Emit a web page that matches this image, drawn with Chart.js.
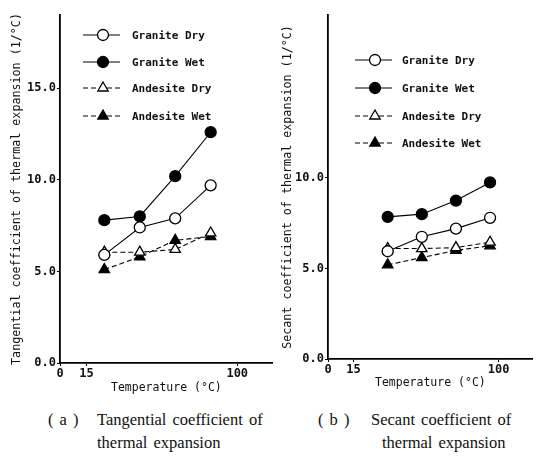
<!DOCTYPE html>
<html>
<head>
<meta charset="utf-8">
<script src="https://cdn.jsdelivr.net/npm/chart.js@4/dist/chart.umd.min.js"></script>
<style>
  body { margin: 0; background: #fff; width: 540px; height: 457px; position: relative; overflow: hidden; }
  canvas { position: absolute; top: 0; }
  #chart-a { left: 0; }
  #chart-b { left: 270px; }
  .cap { position: absolute; font-family: "Liberation Serif", "DejaVu Serif", serif; font-size: 16.5px; color: #111; line-height: 23px; white-space: pre; word-spacing: 2px; }
</style>
</head>
<body>
<canvas id="chart-a" width="280" height="400"></canvas>
<canvas id="chart-b" width="270" height="400"></canvas>
<div class="cap" style="left:48px;top:408px">( a )</div>
<div class="cap" style="left:97px;top:408px">Tangential coefficient of</div>
<div class="cap" style="left:97px;top:431px">thermal expansion</div>
<div class="cap" style="left:318px;top:408px">( b )</div>
<div class="cap" style="left:371px;top:408px">Secant coefficient of</div>
<div class="cap" style="left:382px;top:431px">thermal expansion</div>
<script>
// series
const seriesNames = ['Granite Dry', 'Granite Wet', 'Andesite Dry', 'Andesite Wet'];

// (a) tangential coefficient
const tempsA = [25, 45, 65, 85];
const graniteDryA = [5.9, 7.4, 7.9, 9.7];
const graniteWetA = [7.8, 8.0, 10.2, 12.6];
const andesiteDryA = [6.05, 6.05, 6.2, 7.1];
const andesiteWetA = [5.1, 5.8, 6.7, 6.9];

// (b) secant coefficient
const tempsB = [35, 55, 75, 95];
const graniteDryB = [5.95, 6.75, 7.2, 7.8];
const graniteWetB = [7.85, 8.0, 8.75, 9.75];
const andesiteDryB = [6.1, 6.1, 6.15, 6.45];
const andesiteWetB = [5.2, 5.6, 6.0, 6.25];

// axis ticks
const xTicks = [0, 15, 100];
const yTicksA = [0, 5, 10, 15];
const yTicksB = [0, 5, 10];

const MONO = '"DejaVu Sans Mono", monospace';

const styles = [
    { pointStyle: 'circle', fill: '#fff', dash: [], radius: 5.5 },
    { pointStyle: 'circle', fill: '#000', dash: [], radius: 5.5 },
    { pointStyle: 'triangle', fill: '#fff', dash: [5, 3], radius: 6 },
    { pointStyle: 'triangle', fill: '#000', dash: [5, 3], radius: 6 },
];

function makeDatasets(xs, lists) {
    return lists.map((vals, i) => ({
        label: seriesNames[i],
        data: xs.map((x, k) => ({ x, y: vals[k] })),
        borderColor: '#000',
        borderWidth: 1.1,
        borderDash: styles[i].dash,
        pointStyle: styles[i].pointStyle,
        pointRadius: styles[i].radius,
        pointBackgroundColor: styles[i].fill,
        pointBorderColor: '#000',
        pointBorderWidth: 1.3,
        tension: 0,
    }));
}

// legend drawn inside the plot area
const inlineLegend = {
    id: 'inlineLegend',
    afterDraw(chart, args, opts) {
        const ctx = chart.ctx;
        ctx.save();
        chart.data.datasets.forEach((ds, i) => {
            const y = opts.rows[i];
            ctx.strokeStyle = '#000';
            ctx.lineWidth = 1;
            ctx.setLineDash(ds.borderDash);
            ctx.beginPath();
            ctx.moveTo(opts.x0, y);
            ctx.lineTo(opts.x1, y);
            ctx.stroke();
            ctx.setLineDash([]);
            ctx.fillStyle = ds.pointBackgroundColor;
            ctx.lineWidth = 1.3;
            Chart.helpers.drawPoint(ctx, { pointStyle: ds.pointStyle, radius: ds.pointRadius, borderWidth: 1.3, rotation: 0 }, opts.xm, y);
            ctx.fillStyle = '#111';
            ctx.font = 'bold 11px ' + MONO;
            ctx.textBaseline = 'middle';
            ctx.textAlign = 'left';
            ctx.fillText(ds.label, opts.tx, y + 1);
        });
        ctx.restore();
    }
};

function makeChart(id, xs, lists, yTicks, yTitle, cfg) {
    const ctx = document.getElementById(id);
    return new Chart(ctx, {
        type: 'line',
        data: { datasets: makeDatasets(xs, lists) },
        options: {
            responsive: false,
            animation: false,
            layout: { padding: { top: 15, right: cfg.padRight, left: 0, bottom: 0 } },
            plugins: {
                legend: { display: false },
                tooltip: { enabled: false },
                inlineLegend: cfg.legend,
            },
            scales: {
                x: {
                    type: 'linear', min: 0, max: 120,
                    afterBuildTicks: ax => { ax.ticks = xTicks.map(v => ({ value: v })); },
                    afterFit: ax => { ax.height = cfg.xHeight; },
                    grid: { drawOnChartArea: false, tickLength: 3, color: '#000' },
                    border: { color: '#000', width: 1.8 },
                    ticks: { color: '#111', font: { family: MONO, size: 12, weight: 'bold' }, padding: 1, maxRotation: 0, autoSkip: false },
                    title: { display: true, text: 'Temperature (°C)', color: '#111', font: { family: MONO, size: 11.5 }, padding: { top: 0, bottom: cfg.xTitlePad } },
                },
                y: {
                    type: 'linear', min: 0, max: 19,
                    afterBuildTicks: ax => { ax.ticks = yTicks.map(v => ({ value: v })); },
                    afterFit: ax => { ax.width = cfg.yWidth; },
                    grid: { drawOnChartArea: false, tickLength: 3, color: '#000' },
                    border: { color: '#000', width: 1.8 },
                    ticks: { color: '#111', font: { family: MONO, size: 12, weight: 'bold' }, padding: 1, callback: v => v.toFixed(1) },
                    title: { display: true, text: yTitle, color: '#111', font: { family: MONO, size: 11.7 }, padding: { top: cfg.yTitlePad, bottom: 0 } },
                }
            }
        },
        plugins: [inlineLegend]
    });
}

makeChart('chart-a', tempsA, [graniteDryA, graniteWetA, andesiteDryA, andesiteWetA], yTicksA,
    'Tangential coefficient of thermal expansion (1/°C)',
    { padRight: 6, xHeight: 37, yWidth: 60, xTitlePad: 5, yTitlePad: 10,
      legend: { x0: 83, x1: 120, xm: 103, tx: 132, rows: [35, 62, 88, 116] } });

makeChart('chart-b', tempsB, [graniteDryB, graniteWetB, andesiteDryB, andesiteWetB], yTicksB,
    'Secant coefficient of thermal expansion (1/°C)',
    { padRight: 3, xHeight: 41, yWidth: 58, xTitlePad: 10, yTitlePad: 11,
      legend: { x0: 85, x1: 122, xm: 105, tx: 132, rows: [60, 88, 116, 143] } });
</script>
</body>
</html>
